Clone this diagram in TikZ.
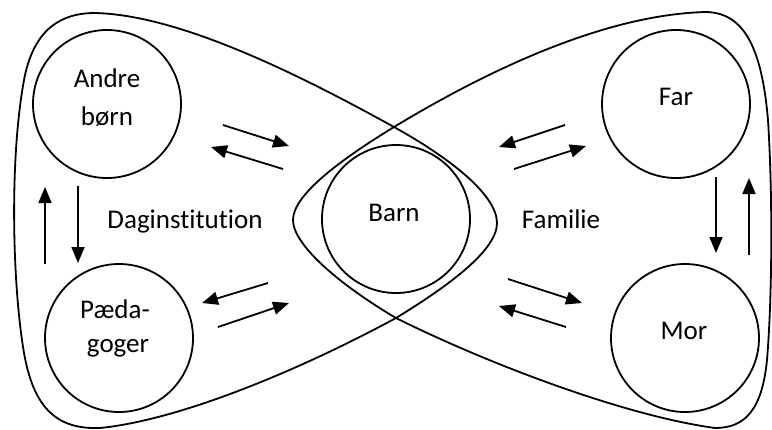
\documentclass[tikz,border=0pt]{standalone}
\usepackage{fontspec}
\setmainfont[Ligatures=NoCommon]{Carlito}
\usetikzlibrary{arrows.meta}
\begin{document}
\begin{tikzpicture}[x=1pt,y=-1pt,
  line width=1.8pt,
  person/.style={circle,draw,minimum size=148pt,inner sep=0pt},
  lbl/.style={font=\fontsize{27}{32}\selectfont, anchor=base, inner sep=0pt},
  flow/.style={-{Triangle[length=16pt,width=13pt]}},
  lobe/.style={line width=1.8pt},
]
\useasboundingbox (0,0) rectangle (772,429);

% two overlapping tear-drop regions
\draw[lobe] (394,127) .. controls (450,158) and (497,195) .. (497,223)
  .. controls (497,250) and (450,285) .. (396,318)
  .. controls (300,370) and (180,420) .. (100,428)
  .. controls (50,430) and (30,400) .. (22,340)
  .. controls (12,270) and (10,150) .. (25,75)
  .. controls (35,30) and (60,13) .. (95,13)
  .. controls (180,15) and (300,75) .. (394,127) -- cycle;
\draw[lobe] (394,127) .. controls (480,75) and (600,15) .. (705,12)
  .. controls (745,12) and (762,50) .. (768,120)
  .. controls (773,200) and (772,300) .. (767,360)
  .. controls (762,410) and (745,428) .. (715,428)
  .. controls (620,415) and (480,360) .. (396,318)
  .. controls (340,285) and (293,245) .. (293,220)
  .. controls (293,195) and (340,160) .. (394,127) -- cycle;

% circles
\node[person] (andre) at (107,104) {};
\node[person] (paed) at (119,338) {};
\node[person] (barn) at (396,219) {};
\node[person] (far) at (676,104) {};
\node[person] (mor) at (685,338) {};

% labels
\node[lbl] (andreA) at (107,87) {Andre};
\node[lbl] (andreB) at (107,125) {børn};
\node[lbl] (paedA) at (115,318) {Pæda-};
\node[lbl] (paedB) at (118,352) {goger};
\node[lbl] (barnT) at (394,221) {Barn};
\node[lbl] (farT) at (676,105) {Far};
\node[lbl] (morT) at (684,339) {Mor};
\node[lbl] (dag) at (185,228) {Daginstitution};
\node[lbl] (fam) at (561,228) {Familie};

% arrow end points
\coordinate (l1s) at (223,125); \coordinate (l1e) at (289,146);
\coordinate (l2s) at (283,169); \coordinate (l2e) at (211,147);
\coordinate (l3s) at (268,283); \coordinate (l3e) at (202,303);
\coordinate (l4s) at (218,327); \coordinate (l4e) at (289,303);
\coordinate (r1s) at (565,125); \coordinate (r1e) at (499,147);
\coordinate (r2s) at (514,169); \coordinate (r2e) at (586,146);
\coordinate (r3s) at (508,279); \coordinate (r3e) at (582,303);
\coordinate (r4s) at (566,327); \coordinate (r4e) at (499,306);
\coordinate (vl1s) at (78,186); \coordinate (vl1e) at (78,263);
\coordinate (vl2s) at (45,264); \coordinate (vl2e) at (45,187);
\coordinate (vr1s) at (716,177); \coordinate (vr1e) at (716,253);
\coordinate (vr2s) at (749,255); \coordinate (vr2e) at (749,178);

\foreach \a in {l1,l2,l3,l4,r1,r2,r3,r4,vl1,vl2,vr1,vr2}
  \draw[flow] (\a s) -- (\a e);
\end{tikzpicture}
\end{document}
